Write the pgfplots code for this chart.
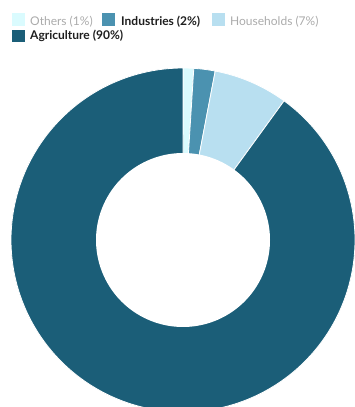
\documentclass[border=0pt]{standalone}
\usepackage{fontspec}
\setmainfont{Lato}
\usepackage{pgfplots}
\pgfplotsset{compat=1.18}
\definecolor{cAgr}{HTML}{1B5E78}
\definecolor{cInd}{HTML}{4B92B0}
\definecolor{cHou}{HTML}{B8DFF0}
\definecolor{cOth}{HTML}{DAFBFE}
\definecolor{cGrey}{HTML}{ABABAB}
\definecolor{cText}{HTML}{1E1E1E}
\begin{document}
\begin{tikzpicture}
\begin{axis}[width=355pt,height=407pt,scale only axis,
  xmin=-183,xmax=172,ymin=-167,ymax=240,hide axis,clip=true]
% shares in percent: Others 1, Industries 2, Households 7, Agriculture 90
\addplot[fill=cOth,draw=white,line width=0.8pt,domain=0:1,samples=6,variable=\p]
  ({172*cos(90-3.6*\p)},{172*sin(90-3.6*\p)}) -- (axis cs:0,0) -- cycle;
\addplot[fill=cInd,draw=white,line width=0.8pt,domain=1:3,samples=8,variable=\p]
  ({172*cos(90-3.6*\p)},{172*sin(90-3.6*\p)}) -- (axis cs:0,0) -- cycle;
\addplot[fill=cHou,draw=white,line width=0.8pt,domain=3:10,samples=20,variable=\p]
  ({172*cos(90-3.6*\p)},{172*sin(90-3.6*\p)}) -- (axis cs:0,0) -- cycle;
\addplot[fill=cAgr,draw=white,line width=0.8pt,domain=10:100,samples=200,variable=\p]
  ({172*cos(90-3.6*\p)},{172*sin(90-3.6*\p)}) -- (axis cs:0,0) -- cycle;
\addplot[fill=white,draw=none,domain=0:360,samples=180]
  ({87*cos(x)},{87*sin(x)}) -- cycle;
\path (axis cs:-183,-167) rectangle (axis cs:172,240);
% legend
\fill[cOth] (axis cs:-171.5,226.5) rectangle (axis cs:-158.5,213.5);
\node[anchor=base west,inner sep=0pt,text=cGrey,font=\fontsize{12}{14}\selectfont] at (axis cs:-153,214.5) {Others (1\%)};
\fill[cInd] (axis cs:-81,226.5) rectangle (axis cs:-68,213.5);
\node[anchor=base west,inner sep=0pt,text=cText,font=\fontsize{12}{14}\selectfont\bfseries] at (axis cs:-62,214.5) {Industries (2\%)};
\fill[cHou] (axis cs:29,226.5) rectangle (axis cs:42,213.5);
\node[anchor=base west,inner sep=0pt,text=cGrey,font=\fontsize{12}{14}\selectfont] at (axis cs:47,214.5) {Households (7\%)};
\fill[cAgr] (axis cs:-171.5,210) rectangle (axis cs:-158.5,197.5);
\node[anchor=base west,inner sep=0pt,text=cText,font=\fontsize{12}{14}\selectfont\bfseries] at (axis cs:-153,200.5) {Agriculture (90\%)};
\end{axis}
\end{tikzpicture}
\end{document}
